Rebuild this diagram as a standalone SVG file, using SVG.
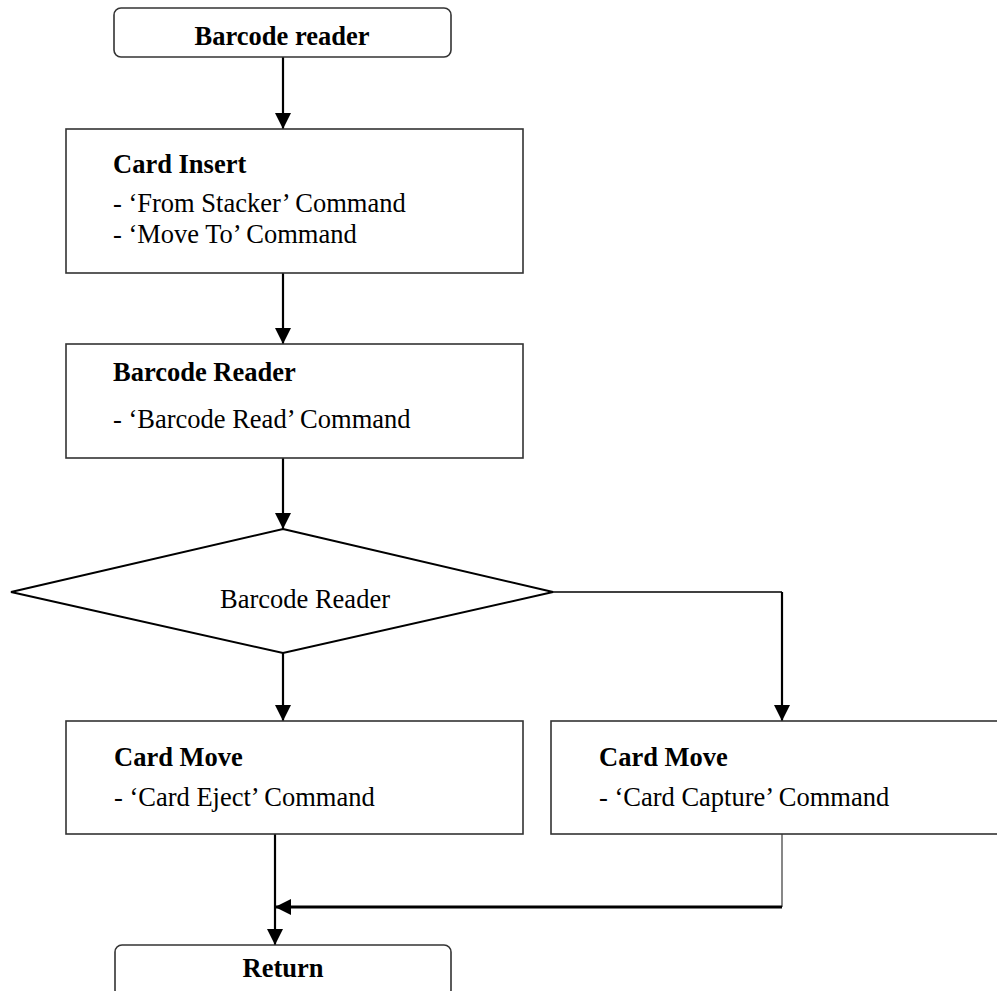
<svg xmlns="http://www.w3.org/2000/svg" width="997" height="991" viewBox="0 0 997 991">
<style>
.box{fill:#fff;stroke:#333;stroke-width:1.6}
.dia{fill:#fff;stroke:#000;stroke-width:2}
.t{font-family:"Liberation Serif","Times New Roman",serif;font-size:26.5px;fill:#000}
.b{font-weight:bold}
.c{text-anchor:middle}
.ln{fill:none;stroke:#000;stroke-width:2.2}
</style>
<defs>
<marker id="ah" markerUnits="userSpaceOnUse" markerWidth="16" markerHeight="16" viewBox="0 0 16 16" refX="16" refY="8" orient="auto">
<path d="M0,0 L16,8 L0,16 Z" fill="#000"/>
</marker>
</defs>
<rect width="997" height="991" fill="#fff"/>
<g id="connectors">
<line class="ln" x1="283" y1="57" x2="283" y2="129" marker-end="url(#ah)"/>
<line class="ln" x1="283" y1="273" x2="283" y2="344" marker-end="url(#ah)"/>
<line class="ln" x1="283" y1="458" x2="283" y2="529" marker-end="url(#ah)"/>
<line class="ln" x1="283" y1="653" x2="283" y2="721" marker-end="url(#ah)"/>
<polyline class="ln" style="stroke-width:1.6" points="553,592 782,592"/>
<line class="ln" x1="782" y1="592" x2="782" y2="721" marker-end="url(#ah)"/>
<line class="ln" x1="275" y1="834" x2="275" y2="945" marker-end="url(#ah)"/>
<polyline class="ln" style="stroke-width:1.4;stroke:#555" points="782,834 782,907"/>
<line class="ln" style="stroke-width:3" x1="782" y1="907" x2="275" y2="907" marker-end="url(#ah)"/>
</g>
<g id="start">
<rect class="box" x="114" y="8" width="337" height="49" rx="7"/>
<text class="t b c" x="282" y="45">Barcode reader</text>
</g>
<g id="card-insert">
<rect class="box" x="66" y="129" width="457" height="144"/>
<text class="t b" x="113" y="173">Card Insert</text>
<text class="t" x="113" y="212">- ‘From Stacker’ Command</text>
<text class="t" x="113" y="243">- ‘Move To’ Command</text>
</g>
<g id="barcode-reader">
<rect class="box" x="66" y="344" width="457" height="114"/>
<text class="t b" x="113" y="381">Barcode Reader</text>
<text class="t" x="113" y="428">- ‘Barcode Read’ Command</text>
</g>
<g id="decision">
<polygon class="dia" points="283,529 553,592 283,653 11,592"/>
<text class="t c" x="305" y="608">Barcode Reader</text>
</g>
<g id="card-eject">
<rect class="box" x="66" y="721" width="457" height="113"/>
<text class="t b" x="114" y="766">Card Move</text>
<text class="t" x="114" y="806">- ‘Card Eject’ Command</text>
</g>
<g id="card-capture">
<rect class="box" x="551" y="721" width="470" height="113"/>
<text class="t b" x="599" y="766">Card Move</text>
<text class="t" x="599" y="806">- ‘Card Capture’ Command</text>
</g>
<g id="return">
<rect class="box" x="115" y="945" width="336" height="52" rx="7"/>
<text class="t b c" x="283" y="977">Return</text>
</g>
</svg>
